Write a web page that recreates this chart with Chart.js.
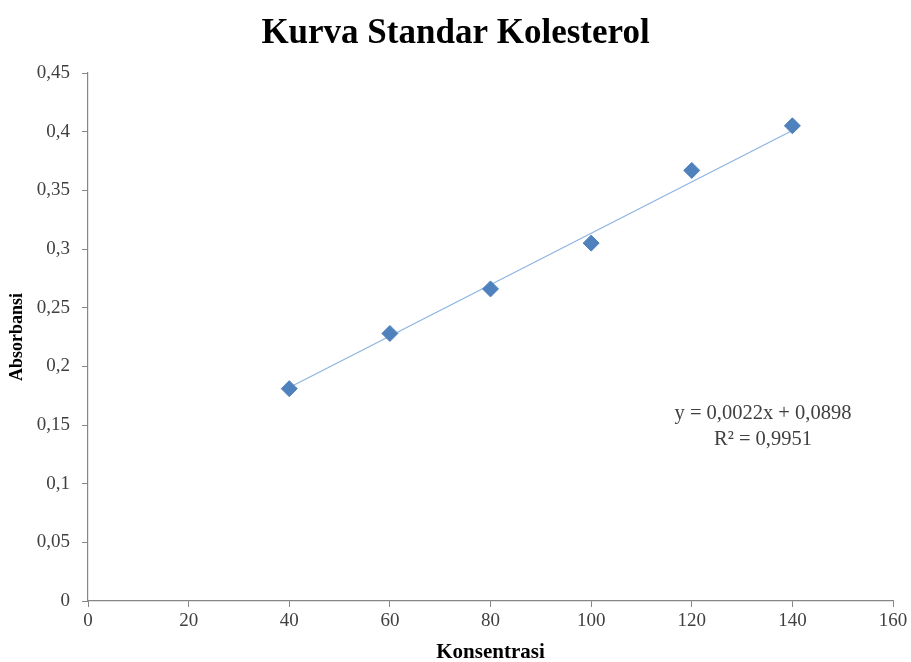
<!DOCTYPE html>
<html>
<head>
<meta charset="utf-8">
<script src="https://cdn.jsdelivr.net/npm/chart.js@4/dist/chart.umd.min.js"></script>
<style>
  html, body { margin: 0; padding: 0; background: #fff; }
  #wrap { width: 911px; height: 662px; }
</style>
</head>
<body>
<div id="wrap"><canvas id="myChart" width="911" height="662"></canvas></div>
<script>
// data
const konsentrasi = [40, 60, 80, 100, 120, 140];
const absorbansi  = [0.181, 0.228, 0.266, 0.305, 0.367, 0.405];
const trendX = [40, 140];
const trendY = [0.182, 0.401];
const xTicks = [0, 20, 40, 60, 80, 100, 120, 140, 160];
const yTicks = [0, 0.05, 0.1, 0.15, 0.2, 0.25, 0.3, 0.35, 0.4, 0.45];
const equationLines = ['y = 0,0022x + 0,0898', 'R² = 0,9951'];

const serif     = "'Liberation Serif', 'Times New Roman', serif";
const pointBlue = '#4f81bd';
const trendBlue = '#8db3e2';
const axisGray  = '#868686';
const textDark  = '#404040';

const comma = v => String(Number(v.toFixed(2))).replace('.', ',');

const equationLabel = {
    id: 'equationLabel',
    afterDatasetsDraw(chart) {
        const a = chart.chartArea;
        const c = chart.ctx;
        c.save();
        c.font = '20.5px ' + serif;
        c.fillStyle = textDark;
        c.textAlign = 'center';
        c.textBaseline = 'middle';
        const cx = a.left + (a.right - a.left) * 0.8385;
        const cy = a.top + (a.bottom - a.top) * 0.646;
        equationLines.forEach((t, i) => c.fillText(t, cx, cy + i * 26));
        c.restore();
    }
};

new Chart(document.getElementById('myChart'), {
    type: 'scatter',
    data: {
        datasets: [
            {
                label: 'Absorbansi',
                data: konsentrasi.map((x, i) => ({ x: x, y: absorbansi[i] })),
                pointStyle: 'rectRot',
                pointRadius: 8,
                pointHoverRadius: 8,
                backgroundColor: pointBlue,
                borderColor: pointBlue,
                borderWidth: 1,
                order: 1
            },
            {
                label: 'Linear',
                type: 'line',
                data: trendX.map((x, i) => ({ x: x, y: trendY[i] })),
                borderColor: trendBlue,
                borderWidth: 1.2,
                pointRadius: 0,
                fill: false,
                order: 2
            }
        ]
    },
    options: {
        responsive: false,
        animation: false,
        layout: { padding: { left: 18, right: 18, top: 0, bottom: 0 } },
        plugins: {
            legend: { display: false },
            tooltip: { enabled: false },
            title: {
                display: true,
                text: 'Kurva Standar Kolesterol',
                color: '#000',
                font: { family: serif, size: 35, weight: 'bold' },
                padding: { top: 13, bottom: 18 }
            }
        },
        scales: {
            x: {
                type: 'linear',
                min: 0,
                max: 160,
                afterBuildTicks: s => { s.ticks = xTicks.map(v => ({ value: v })); },
                afterFit: s => { s.height = 61; },
                grid: { drawOnChartArea: false, color: axisGray, tickLength: 6 },
                border: { color: axisGray, width: 1.2 },
                ticks: {
                    color: textDark,
                    padding: 3,
                    font: { family: serif, size: 19 },
                    callback: v => comma(v)
                },
                title: {
                    display: true,
                    text: 'Konsentrasi',
                    color: '#000',
                    font: { family: serif, size: 21, weight: 'bold' },
                    padding: { top: 0, bottom: -3 }
                }
            },
            y: {
                type: 'linear',
                min: 0,
                max: 0.45,
                afterBuildTicks: s => { s.ticks = yTicks.map(v => ({ value: v })); },
                afterFit: s => { s.width = 70; },
                grid: { drawOnChartArea: false, color: axisGray, tickLength: 6 },
                border: { color: axisGray, width: 1.2 },
                ticks: {
                    color: textDark,
                    padding: 12,
                    font: { family: serif, size: 19 },
                    callback: v => comma(v)
                },
                title: {
                    display: true,
                    text: 'Absorbansi',
                    color: '#000',
                    font: { family: serif, size: 18, weight: 'bold' },
                    padding: { top: -11, bottom: 0 }
                }
            }
        }
    },
    plugins: [equationLabel]
});
</script>
</body>
</html>
